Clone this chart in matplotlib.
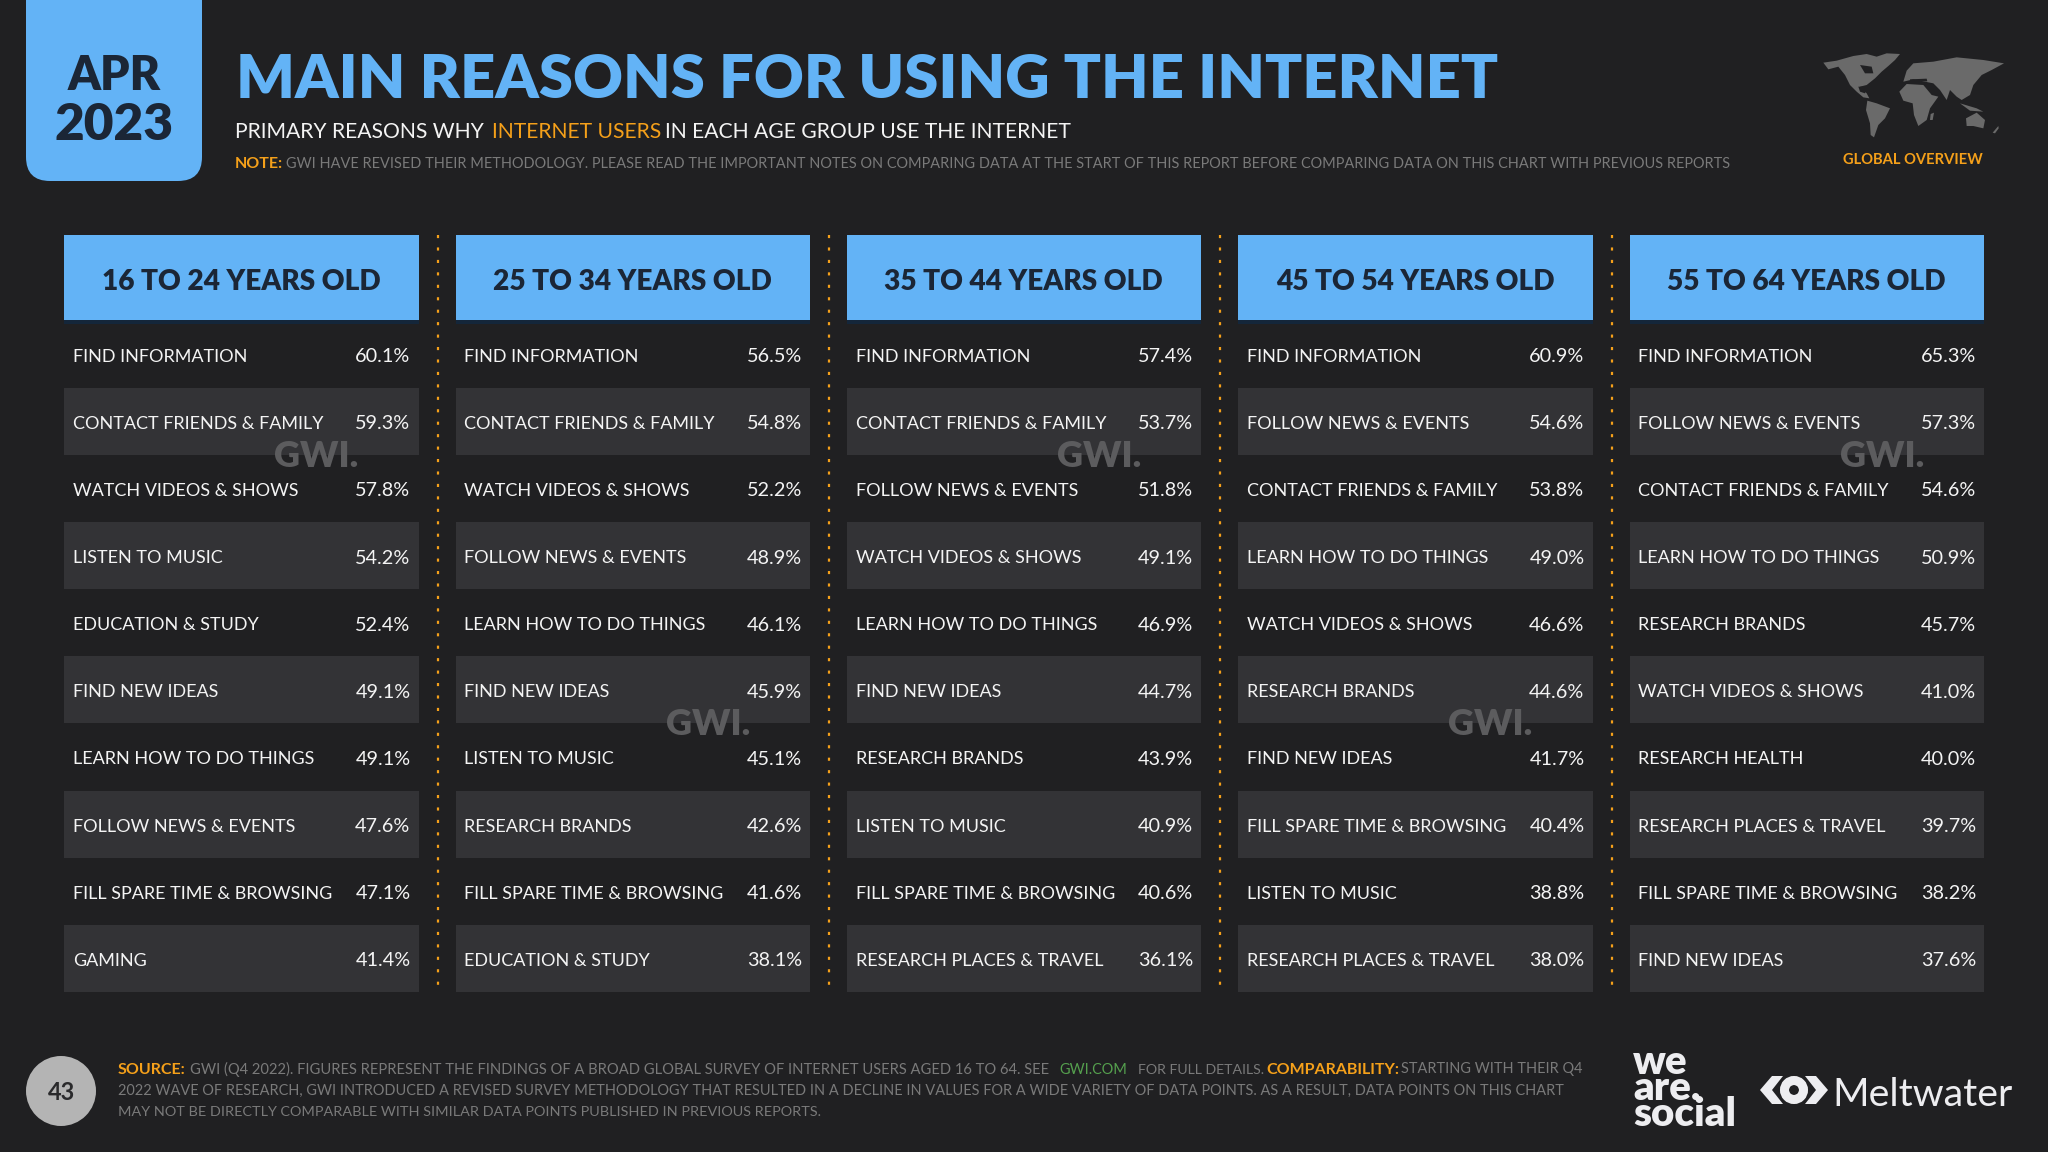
import numpy as np
import matplotlib
matplotlib.use("Agg")
import matplotlib.pyplot as plt
from matplotlib.patches import Rectangle, FancyBboxPatch, Circle, Polygon

FONT = "Lato"
BG = "#202022"
BLUE = "#63B3F6"
NAVY = "#1B2636"
ORANGE = "#F5A01A"
GREY = "#7A7A7A"
WHITE = "#F4F4F4"
BAND = "#333336"

age_groups = ["16 TO 24 YEARS OLD", "25 TO 34 YEARS OLD", "35 TO 44 YEARS OLD",
              "45 TO 54 YEARS OLD", "55 TO 64 YEARS OLD"]

labels_16_24 = ["FIND INFORMATION", "CONTACT FRIENDS & FAMILY", "WATCH VIDEOS & SHOWS", "LISTEN TO MUSIC",
                "EDUCATION & STUDY", "FIND NEW IDEAS", "LEARN HOW TO DO THINGS", "FOLLOW NEWS & EVENTS",
                "FILL SPARE TIME & BROWSING", "GAMING"]
values_16_24 = [60.1, 59.3, 57.8, 54.2, 52.4, 49.1, 49.1, 47.6, 47.1, 41.4]

labels_25_34 = ["FIND INFORMATION", "CONTACT FRIENDS & FAMILY", "WATCH VIDEOS & SHOWS", "FOLLOW NEWS & EVENTS",
                "LEARN HOW TO DO THINGS", "FIND NEW IDEAS", "LISTEN TO MUSIC", "RESEARCH BRANDS",
                "FILL SPARE TIME & BROWSING", "EDUCATION & STUDY"]
values_25_34 = [56.5, 54.8, 52.2, 48.9, 46.1, 45.9, 45.1, 42.6, 41.6, 38.1]

labels_35_44 = ["FIND INFORMATION", "CONTACT FRIENDS & FAMILY", "FOLLOW NEWS & EVENTS", "WATCH VIDEOS & SHOWS",
                "LEARN HOW TO DO THINGS", "FIND NEW IDEAS", "RESEARCH BRANDS", "LISTEN TO MUSIC",
                "FILL SPARE TIME & BROWSING", "RESEARCH PLACES & TRAVEL"]
values_35_44 = [57.4, 53.7, 51.8, 49.1, 46.9, 44.7, 43.9, 40.9, 40.6, 36.1]

labels_45_54 = ["FIND INFORMATION", "FOLLOW NEWS & EVENTS", "CONTACT FRIENDS & FAMILY", "LEARN HOW TO DO THINGS",
                "WATCH VIDEOS & SHOWS", "RESEARCH BRANDS", "FIND NEW IDEAS", "FILL SPARE TIME & BROWSING",
                "LISTEN TO MUSIC", "RESEARCH PLACES & TRAVEL"]
values_45_54 = [60.9, 54.6, 53.8, 49.0, 46.6, 44.6, 41.7, 40.4, 38.8, 38.0]

labels_55_64 = ["FIND INFORMATION", "FOLLOW NEWS & EVENTS", "CONTACT FRIENDS & FAMILY", "LEARN HOW TO DO THINGS",
                "RESEARCH BRANDS", "WATCH VIDEOS & SHOWS", "RESEARCH HEALTH", "RESEARCH PLACES & TRAVEL",
                "FILL SPARE TIME & BROWSING", "FIND NEW IDEAS"]
values_55_64 = [65.3, 57.3, 54.6, 50.9, 45.7, 41.0, 40.0, 39.7, 38.2, 37.6]

all_labels = [labels_16_24, labels_25_34, labels_35_44, labels_45_54, labels_55_64]
all_values = [values_16_24, values_25_34, values_35_44, values_45_54, values_55_64]

fig = plt.figure(figsize=(20.48, 11.52), dpi=100, facecolor=BG)
ax = fig.add_axes([0, 0, 1, 1])
ax.set_xlim(0, 2048)
ax.set_ylim(1152, 0)
ax.axis("off")


def T(x, y, s, size, color=WHITE, weight="normal", ha="left", va="center", z=5, **kw):
    dy = 2.5 if va == "center" else 0
    return ax.text(x, y + dy, s, fontsize=size, color=color, fontweight=weight, ha=ha, va=va,
                   family=FONT, zorder=z, **kw)


# date tab
ax.add_patch(FancyBboxPatch((26, -40), 176, 221, boxstyle="round,pad=0,rounding_size=24",
                            fc=BLUE, ec="none", zorder=2))
T(114, 73, "APR", 33.5, NAVY, "heavy", "center")
T(114, 122, "2023", 37, NAVY, "heavy", "center")

# title block
T(236, 78, "MAIN REASONS FOR USING THE INTERNET", 44.2, BLUE, "heavy")
T(235, 129.5, "PRIMARY REASONS WHY", 15.2)
T(492, 129.5, "INTERNET USERS", 15.2, ORANGE)
T(665, 129.5, "IN EACH AGE GROUP USE THE INTERNET", 15.2)
T(235, 161.5, "NOTE:", 11.5, ORANGE, "bold")
T(286, 161.5, "GWI HAVE REVISED THEIR METHODOLOGY. PLEASE READ THE IMPORTANT NOTES ON COMPARING DATA AT THE START "
              "OF THIS REPORT BEFORE COMPARING DATA ON THIS CHART WITH PREVIOUS REPORTS", 10.44, GREY)

# world map (schematic decoration)
MAP_X, MAP_Y = 1810, 40
land_shapes = [
    [(40, 68), (80, 62), (130, 48), (170, 42), (200, 50), (230, 40), (270, 42), (255, 60), (235, 78), (215, 95),
     (195, 115), (170, 135), (150, 140), (170, 160), (178, 175), (160, 172), (140, 155), (120, 135), (105, 105),
     (85, 80), (55, 88)],
    [(172, 182), (200, 190), (240, 205), (225, 235), (205, 255), (192, 292), (182, 285), (180, 250), (168, 210)],
    [(268, 155), (290, 132), (340, 135), (365, 165), (385, 170), (360, 205), (350, 240), (325, 258), (312, 225),
     (308, 190), (280, 182)],
    [(280, 125), (290, 92), (310, 70), (370, 65), (440, 52), (520, 60), (582, 70), (545, 90), (515, 105), (490, 135),
     (480, 165), (455, 180), (440, 170), (420, 150), (410, 180), (390, 150), (370, 130), (345, 125), (310, 118)],
    [(468, 235), (500, 218), (525, 240), (520, 265), (490, 258), (470, 258)],
    [(450, 190), (500, 205), (520, 215), (480, 212)],
    [(362, 222), (372, 218), (368, 240), (360, 240)],
    [(548, 278), (565, 258), (566, 265), (555, 280)],
]
water_shapes = [
    [(150, 75), (185, 80), (190, 100), (165, 100)],
    [(145, 140), (175, 140), (165, 160), (150, 155)],
    [(300, 118), (350, 116), (352, 124), (300, 125)],
]
for shapes, col, zo in [(land_shapes, "#6A6A6A", 3), (water_shapes, BG, 4)]:
    for shp in shapes:
        ax.add_patch(Polygon([(MAP_X + a / 3, MAP_Y + b / 3) for a, b in shp], closed=True,
                             fc=col, ec="none", zorder=zo))
T(1913, 158, "GLOBAL OVERVIEW", 10.6, ORANGE, "bold", "center")

# table
col_x = [64, 455.5, 846.5, 1238, 1629.5]
col_w = 354.5
row_top = 320.5
row_h = 67.15
wm_rows = [1, 5, 1, 5, 1]
for c, x0 in enumerate(col_x):
    ax.add_patch(Rectangle((x0, 234.5), col_w, 85.5, fc=BLUE, ec="none", zorder=2))
    ax.add_patch(Rectangle((x0, 320), col_w, 4, fc="#14263A", ec="none", zorder=1))
    T(x0 + col_w / 2, 279, age_groups[c], 20.2, NAVY, "heavy", "center")
    for r, (lab, val) in enumerate(zip(all_labels[c], all_values[c])):
        y = row_top + r * row_h
        if r % 2:
            ax.add_patch(Rectangle((x0, y), col_w, row_h, fc=BAND, ec="none", zorder=1))
        T(x0 + 9, y + row_h / 2, lab, 13.0)
        T(x0 + col_w - 8, y + row_h / 2, f"{val:.1f}%", 14.3, ha="right")
    T(x0 + col_w - 60, 320.5 + wm_rows[c] * row_h + 66, "GWI.", 26, "#5C5C5E", "heavy", "right", z=3)
    if c < 4:
        ax.plot([x0 + col_w + 19] * 2, [234.5, 991], color=ORANGE, lw=1.6,
                ls=(0, (1.4, 4.2)), zorder=2)

# footer
ax.add_patch(Circle((61, 1091), 35, fc="#B4B4B4", ec="none", zorder=2))
T(62, 1090, "43", 17, "#2A2A2C", "bold", "center")
fs = 10.45
T(117.5, 1067, "SOURCE:", 11.5, ORANGE, "bold")
T(189.5, 1067, "GWI (Q4 2022). FIGURES REPRESENT THE FINDINGS OF A BROAD GLOBAL SURVEY OF INTERNET USERS AGED 16 TO 64. SEE", 10.65, GREY)
T(1059, 1067, "GWI.COM", fs, "#55A04E")
T(1137.5, 1067, "FOR FULL DETAILS.", 10.2, GREY)
T(1266, 1067, "COMPARABILITY:", 11.5, ORANGE, "bold")
T(1401, 1067, "STARTING WITH THEIR Q4", fs, GREY)
T(117.5, 1088.5, "2022 WAVE OF RESEARCH, GWI INTRODUCED A REVISED SURVEY METHODOLOGY THAT RESULTED IN A DECLINE IN VALUES FOR "
                 "A WIDE VARIETY OF DATA POINTS. AS A RESULT, DATA POINTS ON THIS CHART", fs, GREY)
T(117.5, 1110, "MAY NOT BE DIRECTLY COMPARABLE WITH SIMILAR DATA POINTS PUBLISHED IN PREVIOUS REPORTS.", 10.35, GREY)

# logos
LOGO = "#EDEDF0"
T(1633, 1126, "we\nare.\nsocial", 29, LOGO, "heavy", va="baseline", linespacing=0.64)
T(1832, 1106, "Meltwater", 28.4, LOGO, "normal", va="baseline")
ax.add_patch(Polygon([(1760, 1090), (1772, 1076), (1783, 1076), (1772, 1090), (1783, 1104), (1772, 1104)],
                     closed=True, fc=LOGO, ec="none", zorder=5))
ax.add_patch(Polygon([(1828, 1090), (1816, 1076), (1805, 1076), (1816, 1090), (1805, 1104), (1816, 1104)],
                     closed=True, fc=LOGO, ec="none", zorder=5))
ax.add_patch(Circle((1794, 1090), 9.5, fc="none", ec=LOGO, lw=6.5, zorder=5))

fig.savefig("out.png", dpi=100, facecolor=BG)
